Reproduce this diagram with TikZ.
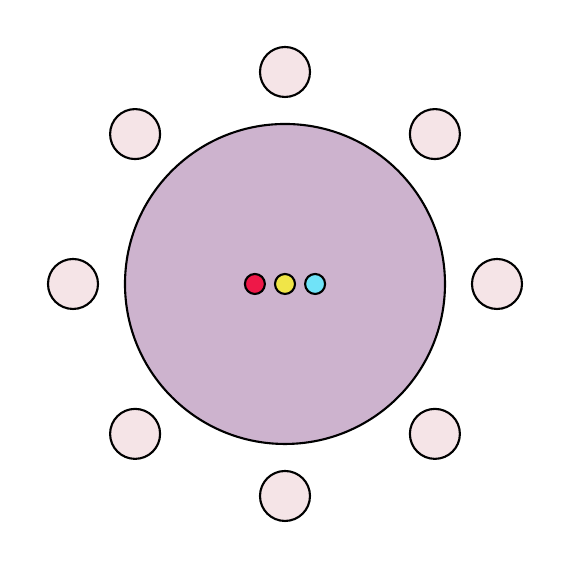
\documentclass[tikz,border=0pt]{standalone}
\usepackage{xcolor}
\usepackage{tikz}
\usetikzlibrary{positioning}

\definecolor{tablefill}{HTML}{CDB3CE}
\definecolor{seatfill}{HTML}{F5E4E7}
\definecolor{dotred}{HTML}{EE1848}
\definecolor{dotyellow}{HTML}{F0E548}
\definecolor{dotcyan}{HTML}{70E3F8}

\begin{document}
\begin{tikzpicture}[line width=0.6pt,
  table/.style={draw=black, circle, fill=tablefill, inner sep=0pt, minimum size=3.2cm},
  seat/.style={draw=black, circle, fill=seatfill, inner sep=0pt, minimum size=0.5cm},
  dot/.style={draw=black, circle, inner sep=0pt, minimum size=0.2cm}]

  \useasboundingbox (-2.85,-2.86) rectangle (2.88,2.84);

  \node[table] (tbl) at (0,0) {};

  % seats round the table
  \node[seat] (s1) at (90:2.12)  {};
  \node[seat] (s2) at (45:2.12)  {};
  \node[seat] (s3) at (0:2.12)   {};
  \node[seat] (s4) at (-45:2.12) {};
  \node[seat] (s5) at (-90:2.12) {};
  \node[seat] (s6) at (-135:2.12){};
  \node[seat] (s7) at (180:2.12) {};
  \node[seat] (s8) at (135:2.12) {};

  % centre dots
  \node[dot, fill=dotyellow] (dy) at (0,0) {};
  \node[dot, fill=dotred,  left=0.08cm of dy]  (dr) {};
  \node[dot, fill=dotcyan, right=0.08cm of dy] (dc) {};
\end{tikzpicture}
\end{document}
